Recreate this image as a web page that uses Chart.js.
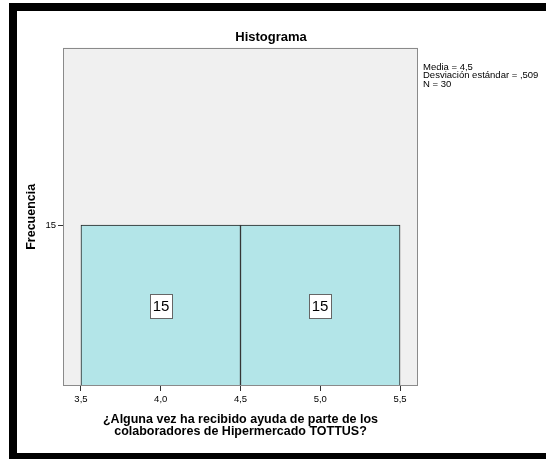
<!DOCTYPE html>
<html>
<head>
<meta charset="utf-8">
<script src="https://cdn.jsdelivr.net/npm/chart.js@4"></script>
<style>
  html, body { margin: 0; padding: 0; background: #fff; overflow: hidden; }
  #wrap { position: relative; width: 546px; height: 459px; }
  #frame {
    position: absolute; left: 9px; top: 3px; width: 600px; height: 442px;
    border-left: 8px solid #000; border-top: 8px solid #000; border-bottom: 8px solid #000;
  }
  #chartHistograma { position: absolute; left: 0; top: 0; }
</style>
</head>
<body>
<div id="wrap">
  <div id="frame"></div>
  <canvas id="chartHistograma" width="546" height="459"></canvas>
</div>
<script>
// bin centres and counts
var binCenters = [4.0, 5.0];
var binCounts = [15, 15];
var xTicks = [3.5, 4.0, 4.5, 5.0, 5.5];
var yTicks = [15];
var statsLines = ["Media = 4,5", "Desviación estándar = ,509", "N = 30"];
var chartTitle = "Histograma";
var xTitle = ["¿Alguna vez ha recibido ayuda de parte de los", "colaboradores de Hipermercado TOTTUS?"];
var yTitle = "Frecuencia";

var FONT = "'Liberation Sans', Arial, sans-serif";

formatComma = function(v) {
  return v.toFixed(1).replace('.', ',');
}

// grey plot box behind the bars
var plotBox = {
  id: 'plotBox',
  beforeDraw: function(chart) {
    var a = chart.chartArea, ctx = chart.ctx;
    ctx.save();
    ctx.fillStyle = '#f0f0f0';
    ctx.fillRect(a.left, a.top, a.right - a.left, a.bottom - a.top);
    ctx.restore();
  },
  afterDatasetsDraw: function(chart) {
    var a = chart.chartArea, ctx = chart.ctx;
    ctx.save();
    ctx.strokeStyle = '#8a8a8a';
    ctx.lineWidth = 1;
    ctx.strokeRect(Math.round(a.left) + 0.5, Math.round(a.top) + 0.5,
      Math.round(a.right - a.left) - 1, Math.round(a.bottom - a.top) - 1);
    ctx.restore();
  }
};

// boxed count labels in the middle of each bar
var barLabels = {
  id: 'barLabels',
  afterDatasetsDraw: function(chart) {
    var ctx = chart.ctx;
    var meta = chart.getDatasetMeta(0);
    ctx.save();
    ctx.font = '15px ' + FONT;
    ctx.textAlign = 'center';
    ctx.textBaseline = 'middle';
    meta.data.forEach(function(bar, i) {
      var cx = Math.round(bar.x), cy = Math.round((bar.y + bar.base) / 2);
      ctx.fillStyle = '#fff';
      ctx.fillRect(cx - 11, cy - 12, 22, 24);
      ctx.strokeStyle = '#666';
      ctx.lineWidth = 1;
      ctx.strokeRect(cx - 11 + 0.5, cy - 12 + 0.5, 22, 24);
      ctx.fillStyle = '#000';
      ctx.fillText(String(binCounts[i]), cx, cy + 1);
    });
    ctx.restore();
  }
};

// stats text to the right of the plot
var statsText = {
  id: 'statsText',
  afterDraw: function(chart) {
    var ctx = chart.ctx, a = chart.chartArea;
    ctx.save();
    ctx.font = '9.5px ' + FONT;
    ctx.fillStyle = '#000';
    ctx.textAlign = 'left';
    ctx.textBaseline = 'middle';
    statsLines.forEach(function(line, i) {
      ctx.fillText(line, a.right + 5, 67 + i * 8.5);
    });
    ctx.restore();
  }
};

var config = {
  type: 'bar',
  data: {
    datasets: [{
      data: binCenters.map(function(c, i) { return { x: c, y: binCounts[i] }; }),
      backgroundColor: '#b3e5e8',
      borderColor: '#222',
      borderWidth: 1,
      borderSkipped: false,
      barThickness: 'flex',
      barPercentage: 1,
      categoryPercentage: 1
    }]
  },
  options: {
    responsive: false,
    animation: false,
    layout: { padding: { left: 16, right: 20, top: 21, bottom: 10 } },
    plugins: {
      legend: { display: false },
      tooltip: { enabled: false },
      title: {
        display: true,
        text: chartTitle,
        color: '#000',
        font: { family: FONT, size: 13, weight: 'bold', lineHeight: 1.2 },
        padding: { top: 9, bottom: 2 }
      }
    },
    scales: {
      x: {
        type: 'linear',
        offset: false,
        min: 3.3875,
        max: 5.6125,
        afterBuildTicks: function(scale) {
          scale.ticks = xTicks.map(function(v) { return { value: v }; });
        },
        afterFit: function(scale) { scale.height = 63; },
        ticks: {
          color: '#000',
          padding: 3,
          autoSkip: false,
          maxRotation: 0,
          font: { family: FONT, size: 9.5 },
          callback: function(v) { return formatComma(v); }
        },
        grid: { offset: false, drawOnChartArea: false, tickLength: 5, color: '#333' },
        border: { display: false },
        title: {
          display: true,
          text: xTitle,
          color: '#000',
          font: { family: FONT, size: 12.5, weight: 'bold', lineHeight: '12px' },
          padding: { top: 0, bottom: 11 }
        }
      },
      y: {
        type: 'linear',
        min: 0,
        max: 31.54,
        afterBuildTicks: function(scale) {
          scale.ticks = yTicks.map(function(v) { return { value: v }; });
        },
        afterFit: function(scale) { scale.width = 47; },
        ticks: {
          color: '#000',
          padding: 2,
          font: { family: FONT, size: 9.5 }
        },
        grid: { drawOnChartArea: false, tickLength: 5, color: '#333' },
        border: { display: false },
        title: {
          display: true,
          text: yTitle,
          color: '#000',
          font: { family: FONT, size: 12.5, weight: 'bold', lineHeight: 1.2 },
          padding: { top: 8, bottom: 0 }
        }
      },
      // empty right-hand axis, only reserves room for the stats text
      yRight: {
        type: 'linear',
        position: 'right',
        display: true,
        afterFit: function(scale) { scale.width = 108; },
        ticks: { display: false },
        grid: { display: false },
        border: { display: false }
      }
    }
  },
  plugins: [plotBox, barLabels, statsText]
};

var ctx = document.getElementById('chartHistograma').getContext('2d');
window.chartHistograma = new Chart(ctx, config);
</script>
</body>
</html>
